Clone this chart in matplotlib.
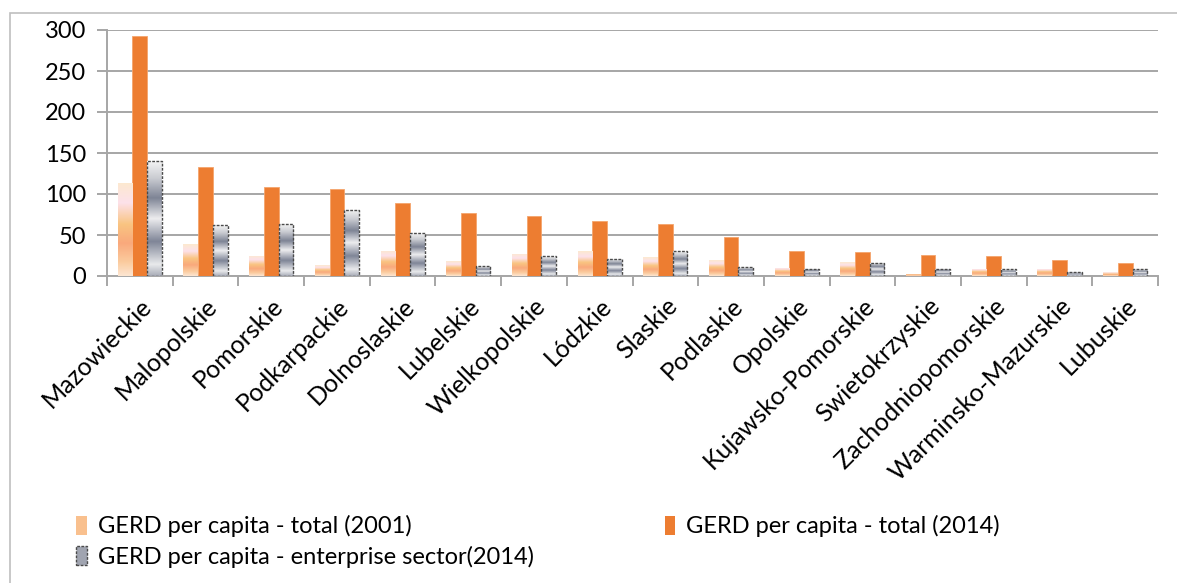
import numpy as np
import matplotlib
matplotlib.use("Agg")
import matplotlib.pyplot as plt
from matplotlib.colors import LinearSegmentedColormap
from matplotlib.patches import Rectangle, Patch

plt.rcParams['font.family'] = ['Lato', 'DejaVu Sans']

# Data
regions = ['Mazowieckie', 'Malopolskie', 'Pomorskie', 'Podkarpackie', 'Dolnoslaskie',
           'Lubelskie', 'Wielkopolskie', 'Lódzkie', 'Slaskie', 'Podlaskie', 'Opolskie',
           'Kujawsko-Pomorskie', 'Swietokrzyskie', 'Zachodniopomorskie',
           'Warminsko-Mazurskie', 'Lubuskie']
total_2001 = [114, 39, 25, 13, 31, 18, 27, 30, 23, 19, 10, 17, 3, 9, 9, 4.5]
total_2014 = [293, 133, 108, 106, 89, 77, 73, 67, 63, 47, 30, 29, 26, 24, 20, 15.5]
enterprise_2014 = [140, 62, 63, 81, 52, 12, 24, 21, 30, 10.5, 9, 16, 9, 8, 4.5, 8]
series_labels = ['GERD per capita - total (2001)', 'GERD per capita - total (2014)',
                 'GERD per capita - enterprise sector(2014)']
yticks = [0, 50, 100, 150, 200, 250, 300]

orange = '#ED7D31'
grid_c = '#A6A6A6'

# gradients (bottom -> top)
peach = LinearSegmentedColormap.from_list('peach', [
    (0.0, '#FDE6D2'), (0.15, '#FBCB9E'), (0.35, '#F9A97C'), (0.55, '#F9C481'),
    (0.78, '#FDE1EA'), (1.0, '#FCE9CF')])
metal = LinearSegmentedColormap.from_list('metal', [
    (0.0, '#A9ADB8'), (0.1, '#E9EAEC'), (0.3, '#7F8597'), (0.5, '#EDEDEF'),
    (0.68, '#7E8495'), (0.85, '#C9CBD1'), (1.0, '#F4F4F4')])
grad = np.linspace(0, 1, 256)[::-1].reshape(-1, 1)

fig = plt.figure(figsize=(11.77, 5.83), dpi=100)
ax = fig.add_axes([107 / 1177, 1 - 276 / 583, 1051 / 1177, 246 / 583])

x = np.arange(len(regions))
w = 0.224

b1 = ax.bar(x - w, total_2001, w, color='#F9C08E', linewidth=0, zorder=3)
b2 = ax.bar(x, total_2014, w, color=orange, edgecolor='#F4A46C', linewidth=0.6, zorder=3)
b3 = ax.bar(x + w, enterprise_2014, w, color='#C0C3CA', linewidth=0, zorder=3)

# fill gradient bars with images clipped to each bar
for bars, cmap in ((b1, peach), (b3, metal)):
    for r in bars:
        x0, y0 = r.get_x(), r.get_y()
        im = ax.imshow(grad, cmap=cmap, aspect='auto', zorder=3.5,
                       extent=(x0, x0 + r.get_width(), y0, y0 + r.get_height()))
        im.set_clip_path(r)

# dashed outline on the enterprise bars
ax.bar(x + w, enterprise_2014, w, fill=False, edgecolor='#4A4A4A',
       linewidth=1.0, linestyle=(0, (2, 1)), zorder=5)

ax.set_xlim(-0.5, len(regions) - 0.5)
ax.set_ylim(0, 300)
ax.set_yticks(yticks)
ax.yaxis.grid(True, color=grid_c, linewidth=1.4, zorder=0)
ax.set_axisbelow(True)
for s in ('top', 'right'):
    ax.spines[s].set_visible(False)
for s in ('left', 'bottom'):
    ax.spines[s].set_color(grid_c)
    ax.spines[s].set_linewidth(1.4)

ax.set_xticks(x)
ax.set_xticklabels(regions, rotation=45, ha='right', rotation_mode='anchor', fontsize=18)
ax.set_xticks(np.arange(-0.5, len(regions), 1), minor=True)
ax.tick_params(axis='x', which='major', length=0, pad=13)
ax.tick_params(axis='x', which='minor', length=7, color=grid_c, width=1.4)
ax.tick_params(axis='y', length=7, color=grid_c, width=1.4, labelsize=17, pad=8)

# outer chart border
fig.add_artist(Rectangle((10 / 1177, -0.1), 1.2, 1 - 13 / 583 + 0.1, transform=fig.transFigure,
                         fill=False, edgecolor='#BFBFBF', linewidth=1.2))

handles = [Patch(facecolor='#F9C08E', edgecolor='none'),
           Patch(facecolor='#A0A4B0', edgecolor='#4A4A4A', linestyle=(0, (2, 1))),
           Patch(facecolor=orange, edgecolor='none')]
labels = [series_labels[0], series_labels[2], series_labels[1]]
fig.legend(handles, labels, ncol=2, loc='upper left', bbox_to_anchor=(55 / 1177, 1 - 494 / 583),
           frameon=False, fontsize=17, handlelength=0.45, handleheight=0.85, handletextpad=0.45,
           columnspacing=5.55, labelspacing=0.35)

fig.savefig('out.png', dpi=100, facecolor='white')
